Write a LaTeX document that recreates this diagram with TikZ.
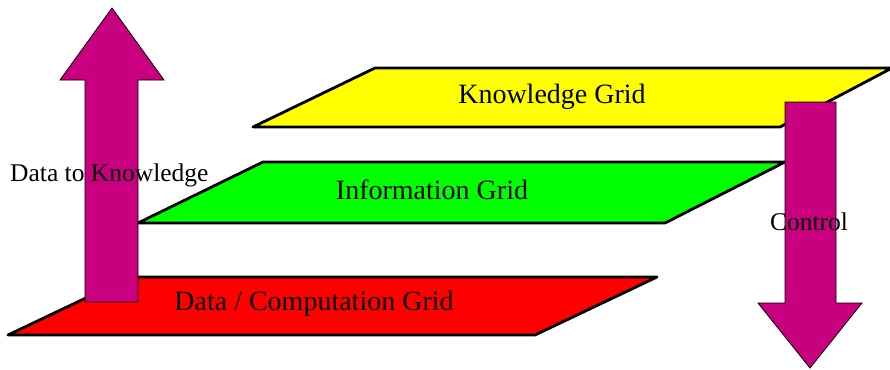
\documentclass[tikz,border=0pt]{standalone}
\usepackage{fontspec}
\setmainfont{Liberation Serif}
\definecolor{arrowpurple}{RGB}{200,0,128}
\definecolor{kyellow}{RGB}{255,255,0}
\definecolor{igreen}{RGB}{0,255,0}
\definecolor{dred}{RGB}{255,0,0}
\begin{document}
\begin{tikzpicture}
[x=1pt,y=-1pt,%
  grid/.style={draw=black,line width=2.8pt,line join=round},%
  bigarrow/.style={fill=arrowpurple,draw=black,line width=0.8pt},%
  gridtext/.style={font=\fontsize{28}{30}\selectfont,inner sep=0pt},%
  sidetext/.style={font=\fontsize{25.5}{28}\selectfont,inner sep=0pt}]
\useasboundingbox (0,0) rectangle (890,369);
% the three grids
\draw[grid,fill=dred] (130,277) -- (657,277) -- (535,335) -- (8,335) -- cycle;
\draw[grid,fill=igreen] (263,162) -- (785,162) -- (665,223) -- (138,223) -- cycle;
\draw[grid,fill=kyellow] (375,68) -- (892,68) -- (780,127) -- (253,127) -- cycle;
% arrows
\draw[bigarrow] (85,302) -- (85,80) -- (60,80) -- (112,8) -- (164,80)
  -- (138,80) -- (138,302) -- cycle;
\draw[bigarrow] (785,102) -- (836,102) -- (836,303) -- (862,303)
  -- (810,368) -- (758,303) -- (785,303) -- cycle;
% texts
\node[gridtext] (kgrid) at (552,97) {Knowledge Grid};
\node[gridtext] (igrid) at (432,190) {Information Grid};
\node[gridtext] (dgrid) at (314,304) {Data / Computation Grid};
\node[sidetext,anchor=west] (up) at (10,175) {Data to Knowledge};
\node[sidetext] (down) at (809,222) {Control};
\end{tikzpicture}
\end{document}
